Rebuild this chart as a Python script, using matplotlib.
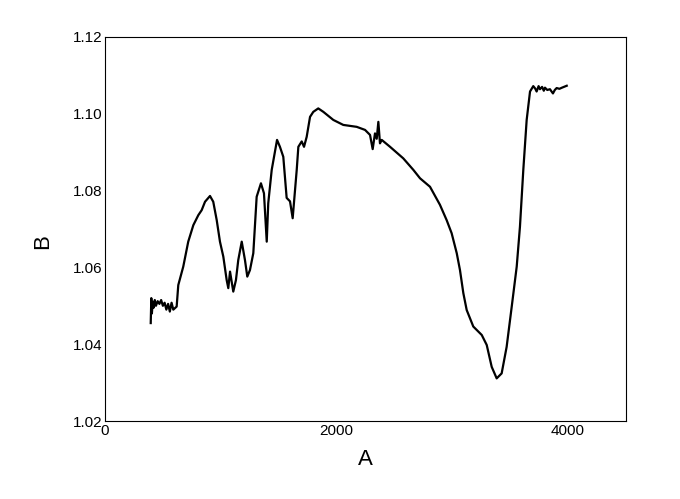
import numpy as np
import matplotlib.pyplot as plt

plt.rcParams['font.family'] = ['Liberation Sans', 'DejaVu Sans']

# spectrum
wavenumber = [395, 400, 405, 412, 420, 430, 440, 455, 470, 485, 500, 515, 530, 545,
              560, 575, 590, 619, 633, 676, 719, 763, 806, 835, 864, 907, 935, 965,
              993, 1022, 1051, 1065, 1080, 1108, 1131, 1151, 1181, 1209, 1229, 1252,
              1281, 1310, 1347, 1373, 1397, 1410, 1440, 1486, 1511, 1540, 1569, 1598,
              1621, 1656, 1670, 1699, 1719, 1742, 1771, 1799, 1842, 1886, 1972, 2058,
              2174, 2246, 2289, 2312, 2332, 2347, 2361, 2375, 2390, 2462, 2576, 2663,
              2721, 2807, 2893, 2951, 2994, 3038, 3066, 3095, 3124, 3181, 3254, 3297,
              3340, 3383, 3426, 3469, 3513, 3556, 3584, 3613, 3642, 3671, 3699, 3715,
              3728, 3745, 3757, 3775, 3790, 3800, 3820, 3843, 3869, 3885, 3901, 3925,
              3947, 3988]
signal = [1.0455, 1.0520, 1.0480, 1.0510, 1.0495, 1.0515, 1.0500, 1.0512, 1.0505,
          1.0515, 1.0500, 1.0508, 1.0490, 1.0505, 1.0485, 1.0508, 1.0490, 1.0498,
          1.0554, 1.0602, 1.0667, 1.0710, 1.0736, 1.0749, 1.0771, 1.0786, 1.0771,
          1.0723, 1.0667, 1.0628, 1.0567, 1.0546, 1.0589, 1.0537, 1.0567, 1.0619,
          1.0667, 1.0619, 1.0576, 1.0593, 1.0637, 1.0784, 1.0819, 1.0793, 1.0667,
          1.0767, 1.0854, 1.0932, 1.0914, 1.0888, 1.0781, 1.0772, 1.0728, 1.0854,
          1.0914, 1.0928, 1.0914, 1.0940, 1.0992, 1.1005, 1.1014, 1.1005, 1.0984,
          1.0971, 1.0966, 1.0958, 1.0945, 1.0908, 1.0949, 1.0935, 1.0979, 1.0923,
          1.0932, 1.0914, 1.0884, 1.0854, 1.0832, 1.0810, 1.0763, 1.0723, 1.0689,
          1.0637, 1.0593, 1.0533, 1.0489, 1.0446, 1.0424, 1.0398, 1.0341, 1.0311,
          1.0324, 1.0393, 1.0498, 1.0602, 1.0706, 1.0854, 1.0984, 1.1058, 1.1072,
          1.1066, 1.1058, 1.1072, 1.1064, 1.1070, 1.1060, 1.1068, 1.1062, 1.1064,
          1.1053, 1.1062, 1.1067, 1.1065, 1.1068, 1.1073]

fig = plt.figure(figsize=(6.8, 4.99), dpi=100)
ax = fig.add_axes([0.1544, 0.1563, 0.7662, 0.7696])
ax.plot(wavenumber, signal, color='black', linewidth=1.6)

ax.set_xlim(0, 4500)
ax.set_ylim(1.02, 1.12)
ax.set_xticks([0, 2000, 4000])
ax.set_yticks([1.02, 1.04, 1.06, 1.08, 1.10, 1.12])
ax.set_yticklabels(['1.02', '1.04', '1.06', '1.08', '1.10', '1.12'])
ax.tick_params(length=0, pad=2, labelsize=11)
ax.set_xlabel('A', fontsize=16)
ax.set_ylabel('B', fontsize=16)
ax.xaxis.set_label_coords(0.499, -0.072)
ax.yaxis.set_label_coords(-0.100, 0.466)

fig.savefig('out.png', dpi=100)
